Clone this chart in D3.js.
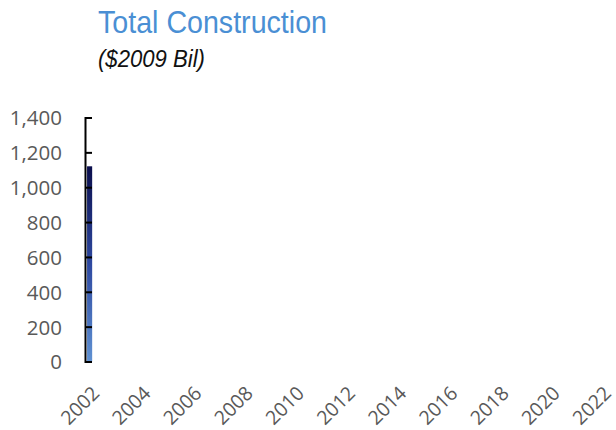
<meta charset="utf-8">
<head>
  <title>Total Construction</title>
</head>
<style>
body { margin:0; background:#fff; }
.title { font-family:"Liberation Sans",Arial,sans-serif; fill:#4a8fd4; }
.sub { font-family:"Liberation Sans",Arial,sans-serif; font-style:italic; fill:#111; }
.axis text { font-family:"Open Sans",sans-serif; font-size:20.5px; fill:#595959; }
.xaxis text { font-size:19.5px; }
</style>
<body>
<div id="content"></div>
<script src="https://cdnjs.cloudflare.com/ajax/libs/d3/7.8.5/d3.min.js"></script>
<script>

// categories on the x axis
var years = ["2002","2003","2004","2005","2006","2007","2008","2009","2010","2011",
             "2012","2013","2014","2015","2016","2017","2018","2019","2020","2021","2022"]
var yearTicks = ["2002","2004","2006","2008","2010","2012","2014","2016","2018","2020","2022"]

// the only bar drawn
var barYears = ["2002"]
var barValues = [1120]

var yTicks = [0, 200, 400, 600, 800, 1000, 1200, 1400]

const width = 616
const height = 430

const svg = d3.select('#content')
  .append('svg')
    .attr('width', width)
    .attr('height', height)

var defs = svg.append('defs')
var grad = defs.append('linearGradient')
  .attr('id', 'barGrad')
  .attr('x1', 0).attr('y1', 0).attr('x2', 0).attr('y2', 1)
grad.append('stop').attr('offset', '0%').attr('stop-color', '#0b0e4c')
grad.append('stop').attr('offset', '50%').attr('stop-color', '#2d48a0')
grad.append('stop').attr('offset', '100%').attr('stop-color', '#5f91d2')

var x = d3.scaleBand()
  .domain(years)
  .range([85, 606])
  .paddingInner(0.8)
  .paddingOuter(0.08)

var y = d3.scaleLinear()
  .domain([0, 1400])
  .range([361.5, 117.5])

// title
svg.append('text')
  .attr('class', 'title')
  .attr('x', 98).attr('y', 33)
  .attr('textLength', 229)
  .attr('lengthAdjust', 'spacingAndGlyphs')
  .style('font-size', '30.5px')
  .text('Total Construction')

svg.append('text')
  .attr('class', 'sub')
  .attr('x', 98).attr('y', 67)
  .attr('textLength', 107)
  .attr('lengthAdjust', 'spacingAndGlyphs')
  .style('font-size', '23.5px')
  .text('($2009 Bil)')

// bars
svg.append('g')
  .selectAll('rect')
  .data(barYears)
  .enter()
  .append('rect')
    .attr('x', function(d) { return x(d) })
    .attr('width', x.bandwidth())
    .attr('y', function(d, i) { return y(barValues[i]) })
    .attr('height', function(d, i) { return y(0) - y(barValues[i]) })
    .style('fill', 'url(#barGrad)')

// y axis
var yAxis = svg.append('g')
  .attr('class', 'axis')
  .attr('transform', 'translate(85,0)')
  .call(d3.axisLeft(y).tickValues(yTicks).tickFormat(d3.format(',')).tickSize(-7).tickSizeOuter(-7).tickPadding(23))
yAxis.select('.domain').attr('stroke', '#000').attr('stroke-width', 2)
yAxis.selectAll('.tick line').attr('stroke', '#000').attr('stroke-width', 2)
yAxis.selectAll('text').attr('dy', '0.36em')

// x axis labels (no line)
var xAxis = svg.append('g')
  .attr('class', 'axis xaxis')
  .attr('transform', 'translate(0,361.5)')
  .call(d3.axisBottom(x).tickValues(yearTicks).tickSize(0))
xAxis.select('.domain').remove()
xAxis.selectAll('text')
  .attr('x', 0).attr('y', 0).attr('dy', 0)
  .attr('text-anchor', 'end')
  .attr('transform', 'translate(11,33) rotate(-45)')

</script>
</body>
